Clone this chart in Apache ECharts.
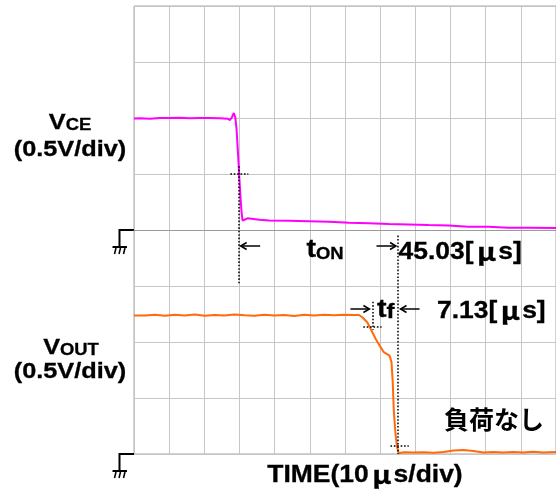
<!DOCTYPE html>
<html>
<head>
<meta charset="utf-8">
<script src="https://cdn.jsdelivr.net/npm/echarts@6/dist/echarts.min.js"></script>
<style>
  html, body { margin: 0; padding: 0; background: #fff; }
  #chart { width: 556px; height: 490px; }
</style>
</head>
<body>
<div id="chart"></div>
<script>
// Collector-emitter voltage trace (time in µs, volts)
const vceTime = [0, 1.70, 4.53, 7.36, 10.19, 13.02, 15.85, 18.68, 21.51, 24.34,
  26.61, 27.31, 27.88, 28.39, 28.81, 29.15, 29.44, 29.72, 30.00, 30.29,
  30.57, 30.85, 31.13, 31.56, 32.27, 33.40, 35.66, 38.49, 44.15, 49.81,
  55.48, 61.14, 66.80, 72.46, 78.12, 83.78, 89.44, 95.10, 100.76, 106.42,
  112.09, 120];
const vceVolts = [0.996, 0.997, 0.994, 1.000, 0.999, 1.002, 0.997, 0.999, 1.001, 0.998,
  0.994, 0.982, 1.009, 1.045, 1.004, 0.906, 0.754, 0.603, 0.442, 0.290,
  0.165, 0.085, 0.071, 0.094, 0.104, 0.100, 0.091, 0.085, 0.082, 0.078,
  0.073, 0.064, 0.060, 0.054, 0.049, 0.044, 0.040, 0.029, 0.029, 0.021,
  0.021, 0.017];

// Output voltage trace (time in µs, volts)
const voutTime = [0, 3.11, 5.94, 8.77, 11.60, 14.44, 17.27, 20.10, 22.93, 25.76,
  28.59, 31.42, 34.25, 37.08, 39.91, 42.74, 45.57, 48.40, 51.23, 54.06,
  56.89, 59.72, 62.55, 63.97, 64.90, 66.32, 67.28, 68.70, 70.11, 71.04,
  72.66, 73.22, 73.59, 73.87, 74.35, 74.81, 75.29, 76.71, 79.54, 82.37,
  85.20, 88.03, 90.86, 93.69, 96.52, 99.35, 102.18, 105.01, 107.84, 110.67,
  113.50, 116.33, 120];
const voutVolts = [1.237, 1.237, 1.243, 1.235, 1.244, 1.237, 1.246, 1.234, 1.241, 1.237,
  1.246, 1.238, 1.234, 1.243, 1.237, 1.241, 1.232, 1.243, 1.237, 1.244,
  1.238, 1.243, 1.241, 1.241, 1.221, 1.177, 1.118, 1.029, 0.954, 0.909,
  0.879, 0.820, 0.629, 0.388, 0.183, 0.061, 0.007, 0.016, 0.013, 0.015,
  0.012, 0.018, 0.031, 0.036, 0.027, 0.013, 0.018, 0.013, 0.017, 0.013,
  0.020, 0.013, 0.018];

// Cursor measurements (µs)
const tOnStart = 29.9;
const tOn = 45.03;
const tF = 7.13;
const tOnEnd = tOnStart + tOn;
const tFStart = tOnEnd - tF;

// Scope settings
const timePerDiv = 10;      // µs/div
const voltsPerDiv = 0.5;    // V/div

const pairs = (xs, ys) => xs.map((x, i) => [x, ys[i]]);

const FONT = '"Liberation Sans", Arial, sans-serif';
const JFONT = '"Noto Sans CJK JP", sans-serif';
const GRID = '#c6c6c6';

const dotted = { type: [1.6, 1.8], color: '#000', width: 1.5 };

const option = {
  animation: false,
  backgroundColor: '#fff',
  grid: { left: 134, top: 6, width: 424, height: 448, show: true, borderColor: '#a4a4a4', borderWidth: 1 },
  xAxis: {
    type: 'value', min: 0, max: 12 * timePerDiv, interval: timePerDiv,
    axisLabel: { show: false }, axisTick: { show: false },
    axisLine: { show: true, onZero: true, onZeroAxisIndex: 0, lineStyle: { color: '#9a9a9a', width: 1 } },
    splitLine: { show: true, lineStyle: { color: GRID, width: 1 } }
  },
  yAxis: [
    { type: 'value', min: -4 * voltsPerDiv, max: 4 * voltsPerDiv, interval: voltsPerDiv,
      axisLabel: { show: false }, axisTick: { show: false }, axisLine: { show: false },
      splitLine: { show: true, lineStyle: { color: GRID, width: 1 } } },
    { type: 'value', min: 0, max: 8 * voltsPerDiv, interval: voltsPerDiv, show: false,
      splitLine: { show: false } }
  ],
  series: [
    {
      name: 'VCE', type: 'line', yAxisIndex: 0, showSymbol: false, z: 3,
      data: pairs(vceTime, vceVolts),
      lineStyle: { color: '#ff00ff', width: 2 }, itemStyle: { color: '#ff00ff' },
      markLine: {
        silent: true, symbol: ['none', 'none'], label: { show: false }, lineStyle: dotted,
        data: [
          [{ coord: [tOnStart, 0.57] }, { coord: [tOnStart, -0.48] }],
          [{ coord: [tOnStart - 2.5, 0.5] }, { coord: [tOnStart + 2.6, 0.5] }],
          [{ coord: [tOnEnd, -0.05] }, { coord: [tOnEnd, -2] }]
        ]
      }
    },
    {
      name: 'VOUT', type: 'line', yAxisIndex: 1, showSymbol: false, z: 3,
      data: pairs(voutTime, voutVolts),
      lineStyle: { color: '#ff6a0a', width: 2 }, itemStyle: { color: '#ff6a0a' },
      markLine: {
        silent: true, symbol: ['none', 'none'], label: { show: false }, lineStyle: dotted,
        data: [
          [{ coord: [tFStart, 1.36] }, { coord: [tFStart, 1.11] }],
          [{ coord: [tFStart - 2.6, 1.14] }, { coord: [tFStart + 2.6, 1.14] }],
          [{ coord: [tOnEnd - 2.0, 0.076] }, { coord: [tOnEnd + 3.2, 0.076] }]
        ]
      }
    }
  ]
};

const chart = echarts.init(document.getElementById('chart'), null, { renderer: 'canvas' });
chart.setOption(option);

const px = (t, v, axis) => chart.convertToPixel({ xAxisIndex: 0, yAxisIndex: axis }, [t, v]);

// Ground reference symbol at the left edge of a channel
function ground(y) {
  const left = px(0, 0, 0)[0];
  const gx = left - 14.5;
  const s = { stroke: '#000', lineWidth: 2 };
  const h = { stroke: '#000', lineWidth: 1.6 };
  return [
    { type: 'polyline', shape: { points: [[left, y], [gx, y], [gx, y + 17]] }, style: s },
    { type: 'line', shape: { x1: gx - 7, y1: y + 17, x2: gx + 7.5, y2: y + 17 }, style: s },
    { type: 'line', shape: { x1: gx - 3.5, y1: y + 18, x2: gx - 5, y2: y + 24 }, style: h },
    { type: 'line', shape: { x1: gx + 1, y1: y + 18, x2: gx - 0.5, y2: y + 24 }, style: h },
    { type: 'line', shape: { x1: gx + 5.5, y1: y + 18, x2: gx + 4, y2: y + 24 }, style: h }
  ];
}

// Horizontal arrow from x1 to tip x2
function arrow(x1, x2, y) {
  const d = x2 > x1 ? 1 : -1;
  const st = { stroke: '#000', lineWidth: 1.5, fill: null };
  return [
    { type: 'line', shape: { x1: x1, y1: y, x2: x2, y2: y }, style: st },
    { type: 'polyline', shape: { points: [[x2 - d * 6, y - 3.5], [x2, y], [x2 - d * 6, y + 3.5]] }, style: st }
  ];
}

function label(x, y, text, rich, align, sx) {
  return {
    type: 'text', x: x, y: y, scaleX: sx || 1.15, z: 10,
    style: { x: 0, y: 0, text: text, rich: rich, align: align || 'center', verticalAlign: 'middle',
      fill: '#000', font: 'bold 22px ' + FONT, stroke: '#000', lineWidth: 0.3 }
  };
}

const bold = (size, fam) => ({ fontFamily: fam || FONT, fontWeight: 'bold', fontSize: size, fill: '#000', verticalAlign: 'bottom', lineHeight: 26 });
const richMain = {
  n: bold(23),
  mu: Object.assign(bold(25, JFONT), { padding: [0, 2, 0, 3] }),
  big: bold(22),
  t: bold(25),
  sub: bold(16),
  f: bold(21)
};

const yGndVce = px(0, 0, 0)[1];
const yGndVout = px(0, 0, 1)[1];
const xA = px(tOnStart, 0, 0)[0];
const xB = px(tOnEnd, 0, 0)[0];
const xC = px(tFStart, 0, 0)[0];
const yOn = 246;
const yF = 309;

const graphics = [].concat(
  ground(yGndVce),
  ground(yGndVout),
  arrow(xA + 21, xA + 1.5, yOn),
  arrow(xB - 21, xB - 1.5, yOn),
  arrow(xC - 22, xC - 3, yF),
  arrow(xB + 22, xB + 3, yF),
  [
    label(70, 121, '{big|V}{sub|CE}', richMain),
    label(70, 150, '(0.5V/div)', null),
    label(71, 346, '{big|V}{sub|OUT}', richMain),
    label(70, 372, '(0.5V/div)', null),
    label(325, 250, '{t|t}{sub|ON}', richMain),
    label(xB + 1, 251, '{n|45.03[}{mu|μ}{n|s]}', richMain, 'left'),
    label(377, 310, '{t|t}{f|f}', richMain, 'left'),
    label(437, 310, '{n|7.13[}{mu|μ}{n|s]}', richMain, 'left'),
    label(365, 474, '{n|TIME(10}{mu|μ}{n|s/div)}', richMain),
    { type: 'text', x: 494, y: 419, z: 10,
      style: { x: 0, y: 0, text: '負荷なし', align: 'center', verticalAlign: 'middle',
        fill: '#000', font: 'bold 25px ' + JFONT } }
  ]
);

chart.setOption({ graphic: graphics });
</script>
</body>
</html>
